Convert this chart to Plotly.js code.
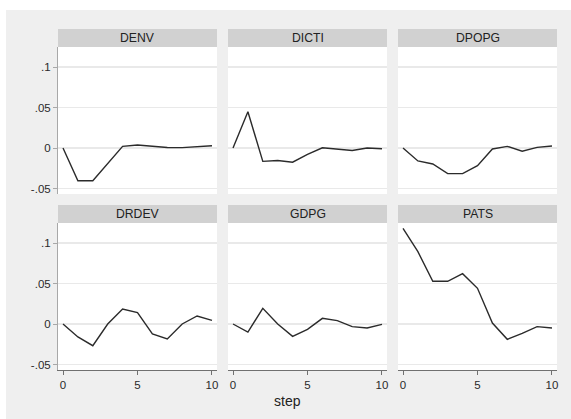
<!DOCTYPE html>
<html>
<head>
<meta charset="utf-8">
<script src="https://cdn.plot.ly/plotly-3.0.1.min.js"></script>
<style>
  html, body { margin: 0; padding: 0; background: #ffffff; width: 571px; height: 419px; overflow: hidden; }
  #chart { position: absolute; left: 6px; top: 10px; width: 565px; height: 409px; }
</style>
</head>
<body>
<div id="chart"></div>
<script>
const steps = [0, 1, 2, 3, 4, 5, 6, 7, 8, 9, 10];
const panelNames = ["DENV", "DICTI", "DPOPG", "DRDEV", "GDPG", "PATS"];
const DENV  = [0, -0.0405, -0.0405, -0.019, 0.002, 0.0037, 0.0022, 0.0007, 0.0005, 0.0018, 0.0027];
const DICTI = [0, 0.0448, -0.0165, -0.0155, -0.0175, -0.008, 0.0003, -0.0012, -0.003, 0.0, -0.001];
const DPOPG = [0, -0.016, -0.0197, -0.0317, -0.0317, -0.0218, -0.0012, 0.002, -0.004, 0.0008, 0.0025];
const DRDEV = [0, -0.016, -0.0268, 0, 0.0185, 0.014, -0.0123, -0.0185, 0, 0.0099, 0.0045];
const GDPG  = [0, -0.0099, 0.0193, 0, -0.0152, -0.0066, 0.007, 0.0041, -0.0033, -0.0049, -0.0004];
const PATS  = [0.118, 0.0893, 0.0527, 0.0527, 0.0621, 0.0441, 0.0012, -0.0189, -0.0115, -0.0033, -0.0049];
const seriesList = [DENV, DICTI, DPOPG, DRDEV, GDPG, PATS];
const yTickVals = [-0.05, 0, 0.05, 0.1];
const yTickText = ["-.05", "0", ".05", ".1"];
const xTickVals = [0, 5, 10];
const xTickText = ["0", "5", "10"];
const xTitle = "step";

// pixel helpers (div origin at page 6,10; size 565x409)
const W = 565, H = 409, OX = 6, OY = 10;
const fx = x => (x - OX) / W;
const fy = y => 1 - (y - OY) / H;

const colLeft = [58, 228, 398];
const colW = 159;
const rowPlot = [[47, 194], [223, 370]];
const rowHead = [[29, 47], [205, 223]];

const font = "Liberation Sans, Arial, sans-serif";
const traces = [];
const layout = {
  width: W, height: H,
  margin: {l: 0, r: 0, t: 0, b: 0},
  paper_bgcolor: "#efefef",
  plot_bgcolor: "#ffffff",
  showlegend: false,
  font: {family: font, size: 11, color: "#333333"},
  shapes: [],
  annotations: []
};

for (let i = 0; i < 6; i++) {
  const r = Math.floor(i / 3), c = i % 3;
  const n = i + 1;
  const xa = n === 1 ? "x" : "x" + n;
  const ya = n === 1 ? "y" : "y" + n;
  traces.push({
    x: steps, y: seriesList[i], xaxis: xa, yaxis: ya,
    type: "scatter", mode: "lines",
    line: {color: "#2b2b2b", width: 1.4},
    hoverinfo: "skip"
  });
  const x0 = colLeft[c], x1 = colLeft[c] + colW;
  const bottomRow = r === 1;
  layout["xaxis" + (n === 1 ? "" : n)] = {
    domain: [fx(x0), fx(x1)],
    anchor: ya,
    range: [-0.336, 10.336],
    showgrid: false, zeroline: false,
    showline: bottomRow, linecolor: "#707070", linewidth: 1,
    ticks: bottomRow ? "outside" : "", ticklen: 4, tickcolor: "#707070",
    tickvals: xTickVals, ticktext: xTickText,
    showticklabels: bottomRow,
    tickfont: {family: font, size: 11.5, color: "#2a2a2a"},
    fixedrange: true
  };
  const leftCol = c === 0;
  layout["yaxis" + (n === 1 ? "" : n)] = {
    domain: [fy(rowPlot[r][1]), fy(rowPlot[r][0])],
    anchor: xa,
    range: [-0.0568, 0.1247],
    showgrid: true, gridcolor: "#e9e9e9", gridwidth: 1.5,
    zeroline: false,
    showline: leftCol, linecolor: "#a8a8a8", linewidth: 1,
    ticks: leftCol ? "outside" : "", ticklen: 4, tickcolor: "#a8a8a8",
    tickvals: yTickVals, ticktext: yTickText,
    showticklabels: leftCol,
    tickfont: {family: font, size: 11.5, color: "#2a2a2a"},
    fixedrange: true
  };
  layout.shapes.push({
    type: "rect", xref: "paper", yref: "paper",
    x0: fx(x0), x1: fx(x1), y0: fy(rowHead[r][1]), y1: fy(rowHead[r][0]),
    fillcolor: "#d1d1d1", line: {width: 0}, layer: "below"
  });
  layout.annotations.push({
    xref: "paper", yref: "paper",
    x: fx((x0 + x1) / 2), y: fy((rowHead[r][0] + rowHead[r][1]) / 2),
    text: panelNames[i], showarrow: false,
    xanchor: "center", yanchor: "middle",
    font: {family: font, size: 12.2, color: "#222222"}
  });
}
layout.annotations.push({
  xref: "paper", yref: "paper",
  x: fx(287), y: fy(401),
  text: xTitle, showarrow: false, xanchor: "center", yanchor: "middle",
  font: {family: font, size: 14, color: "#222222"}
});

Plotly.newPlot("chart", traces, layout, {displayModeBar: false, staticPlot: true});
</script>
</body>
</html>
